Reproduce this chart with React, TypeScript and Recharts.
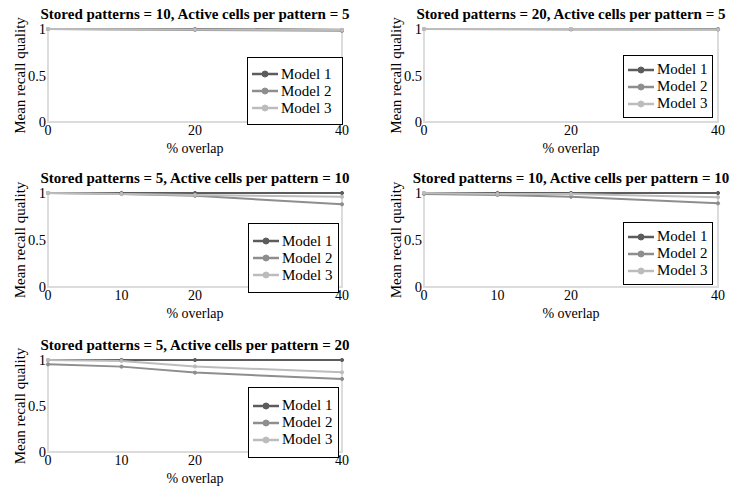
import React from "react";
import {
  LineChart,
  Line,
  XAxis,
  YAxis,
  ReferenceArea,
  Legend,
} from "recharts";

// ---- data ----
const overlap3 = [0, 20, 40];
const overlap4 = [0, 10, 20, 40];
const seriesNames = ["Model 1", "Model 2", "Model 3"];
const seriesColors = ["#5c5c5c", "#8e8e8e", "#bcbcbc"];

const titles = [
  "Stored patterns = 10, Active cells per pattern = 5",
  "Stored patterns = 20, Active cells per pattern = 5",
  "Stored patterns = 5, Active cells per pattern = 10",
  "Stored patterns = 10, Active cells per pattern = 10",
  "Stored patterns = 5, Active cells per pattern = 20",
];

const p1m1 = [1, 1, 0.99];
const p1m2 = [1, 0.99, 0.98];
const p1m3 = [1, 0.995, 0.99];

const p2m1 = [1, 1, 1];
const p2m2 = [1, 0.995, 0.995];
const p2m3 = [1, 1, 0.995];

const p3m1 = [1, 1, 1, 1];
const p3m2 = [1, 0.99, 0.97, 0.88];
const p3m3 = [1, 0.99, 0.98, 0.96];

const p4m1 = [1, 1, 1, 1];
const p4m2 = [0.99, 0.98, 0.96, 0.89];
const p4m3 = [1, 0.99, 0.99, 0.955];

const p5m1 = [1, 1, 1, 1];
const p5m2 = [0.953, 0.928, 0.863, 0.794];
const p5m3 = [1, 0.99, 0.93, 0.866];

const yTicks = [0, 0.5, 1];

const FONT = "'Liberation Serif', 'DejaVu Serif', Tinos, 'Times New Roman', Times, serif";

function buildRows(x: number[], a: number[], b: number[], c: number[]) {
  return x.map((v, i) => ({ overlap: v, m1: a[i], m2: b[i], m3: c[i] }));
}

type PanelProps = {
  title: string;
  rows: any[];
  xTicks: number[];
  left: number;
  top: number;
  width: number;
  plotH: number;
  marginRight: number;
  legendBox: { left: number; top: number; w: number; h: number };
};

const LegendBox = (props: any) => {
  const { payload } = props;
  return (
    <div
      style={{
        boxSizing: "border-box",
        width: "100%",
        height: "100%",
        border: "1.5px solid #000",
        background: "#fff",
        display: "flex",
        flexDirection: "column",
        justifyContent: "center",
        paddingLeft: 4,
        fontFamily: FONT,
        fontSize: 15,
        color: "#000",
      }}
    >
      {(payload || []).map((p: any, i: number) => (
        <div
          key={i}
          style={{ display: "flex", alignItems: "center", height: 17, lineHeight: "17px" }}
        >
          <svg width={26} height={10} style={{ marginRight: 3 }}>
            <line x1={0} y1={5} x2={26} y2={5} stroke={p.color} strokeWidth={2.5} />
            <circle cx={13} cy={5} r={3} fill={p.color} stroke={p.color} />
          </svg>
          <span style={{ fontFamily: FONT, whiteSpace: "nowrap" }}>{p.value}</span>
        </div>
      ))}
    </div>
  );
};

function Panel(props: PanelProps) {
  const { title, rows, xTicks, left, top, width, plotH, marginRight, legendBox } = props;
  const marginTop = 29;
  const xAxisH = 38;
  const yAxisW = 48;
  const height = marginTop + plotH + xAxisH;
  const plotRight = width - marginRight;
  return (
    <div style={{ position: "absolute", left, top, width, height, fontFamily: FONT }}>
      <div
        style={{
          position: "absolute",
          left: yAxisW - 40,
          width: plotRight - yAxisW + 80,
          top: 6,
          textAlign: "center",
          fontFamily: FONT,
          fontWeight: "bold",
          fontSize: 15,
          lineHeight: "16px",
          whiteSpace: "nowrap",
          color: "#000",
        }}
      >
        {title}
      </div>
      <LineChart
        width={width}
        height={height}
        data={rows}
        margin={{ top: marginTop, right: marginRight, left: 0, bottom: 0 }}
        style={{ fontFamily: FONT }}
      >
        <XAxis
          dataKey="overlap"
          type="number"
          domain={[0, 40]}
          ticks={xTicks}
          height={xAxisH}
          axisLine={false}
          tickLine={false}
          tickSize={3}
          tickMargin={0}
          tick={{ fill: "#000", fontSize: 14, fontFamily: FONT }}
          label={{
            value: "% overlap",
            position: "insideBottom",
            offset: 7,
            fill: "#000",
            fontSize: 14,
            fontFamily: FONT,
          }}
        />
        <YAxis
          type="number"
          domain={[0, 1]}
          ticks={yTicks}
          width={yAxisW}
          axisLine={false}
          tickLine={false}
          tickSize={2}
          tickMargin={0}
          tick={{ fill: "#000", fontSize: 14.5, fontFamily: FONT }}
          label={{
            value: "Mean recall quality",
            angle: -90,
            position: "center",
            dx: -4,
            fill: "#000",
            fontSize: 15,
            fontFamily: FONT,
          }}
        />
        <ReferenceArea
          x1={0}
          x2={40}
          y1={0}
          y2={1}
          fill="none"
          stroke="#dcdcdc"
          strokeWidth={2}
          ifOverflow="visible"
        />
        {["m1", "m2", "m3"].map((k, i) => (
          <Line
            key={k}
            type="linear"
            dataKey={k}
            name={seriesNames[i]}
            stroke={seriesColors[i]}
            strokeWidth={2}
            dot={{ r: 1.6, fill: seriesColors[i], stroke: seriesColors[i], strokeWidth: 1 }}
            isAnimationActive={false}
          />
        ))}
        <Legend
          layout="horizontal"
          verticalAlign="middle"
          align="center"
          content={LegendBox}
          wrapperStyle={{
            position: "absolute",
            left: legendBox.left - left,
            top: legendBox.top - top,
            width: legendBox.w,
            height: legendBox.h,
            margin: 0,
          }}
        />
      </LineChart>
    </div>
  );
}

export default function App() {
  return (
    <div
      style={{
        position: "absolute",
        left: 0,
        top: 0,
        width: 732,
        height: 486,
        overflow: "hidden",
        background: "#fff",
        fontFamily: FONT,
      }}
    >
      <Panel
        title={titles[0]}
        rows={buildRows(overlap3, p1m1, p1m2, p1m3)}
        xTicks={overlap3}
        left={0}
        top={0}
        width={360}
        plotH={93}
        marginRight={18}
        legendBox={{ left: 247, top: 57, w: 96, h: 68 }}
      />
      <Panel
        title={titles[1]}
        rows={buildRows(overlap3, p2m1, p2m2, p2m3)}
        xTicks={overlap3}
        left={376}
        top={0}
        width={356}
        plotH={93}
        marginRight={14}
        legendBox={{ left: 623, top: 55, w: 90, h: 63 }}
      />
      <Panel
        title={titles[2]}
        rows={buildRows(overlap4, p3m1, p3m2, p3m3)}
        xTicks={overlap4}
        left={0}
        top={164}
        width={360}
        plotH={94}
        marginRight={18}
        legendBox={{ left: 248, top: 223, w: 91, h: 70 }}
      />
      <Panel
        title={titles[3]}
        rows={buildRows(overlap4, p4m1, p4m2, p4m3)}
        xTicks={overlap4}
        left={376}
        top={164}
        width={356}
        plotH={94}
        marginRight={14}
        legendBox={{ left: 623, top: 222, w: 90, h: 63 }}
      />
      <Panel
        title={titles[4]}
        rows={buildRows(overlap4, p5m1, p5m2, p5m3)}
        xTicks={overlap4}
        left={0}
        top={331}
        width={360}
        plotH={92}
        marginRight={18}
        legendBox={{ left: 248, top: 387, w: 91, h: 71 }}
      />
    </div>
  );
}
